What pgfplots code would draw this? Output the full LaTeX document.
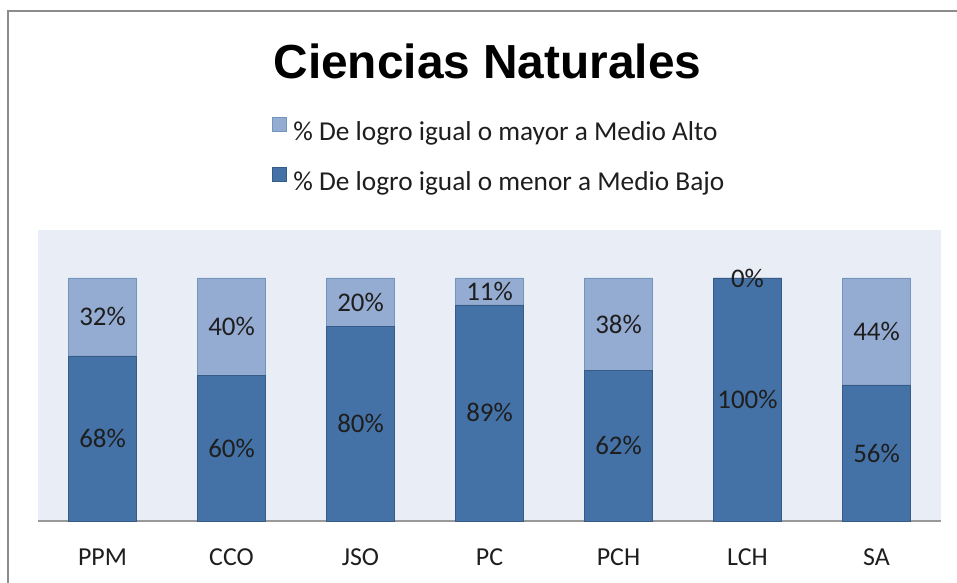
\documentclass[border=0pt]{standalone}
\usepackage{pgfplots}
\pgfplotsset{compat=1.18}
\usepackage{fontspec}
\setmainfont{Carlito}
\newfontfamily\titlefont{Liberation Sans}
\definecolor{bajo}{HTML}{4472A7}
\definecolor{alto}{HTML}{95ACD2}
\definecolor{plotbg}{HTML}{E9EDF5}
\definecolor{txt}{HTML}{1E1E1E}

\begin{document}
\begin{tikzpicture}
\path[use as bounding box] (-38bp,-62bp) rectangle (919bp,521bp);
\draw[black!45, line width=1.8bp] (-30bp,-80bp) -- (-30bp,510bp) -- (940bp,510bp);
\node[font=\titlefont\bfseries\fontsize{48}{56}\selectfont] at (449.5bp,460bp) {Ciencias Naturales};
\begin{axis}[
  scale only axis, width=903bp, height=291bp,
  ybar stacked, bar width=68bp,
  xmin=-0.5, xmax=6.5, ymin=0, ymax=119.75,
  axis background/.style={fill=plotbg},
  axis y line=none, axis x line*=bottom,
  x axis line style={black!40, line width=1.2bp, -},
  xtick={0,...,6}, xticklabels={PPM,CCO,JSO,PC,PCH,LCH,SA},
  major tick length=0pt,
  xticklabel style={font=\fontsize{26}{30}\selectfont, text=txt, yshift=-24bp},
  % labels sit centred in each stacked segment
  nodes near coords={\pgfmathprintnumber[fixed,precision=0]{\rawy}\%},
  nodes near coords style={font=\fontsize{27}{31}\selectfont, text=txt, anchor=center},
  visualization depends on=rawy \as \rawy,
  /pgf/number format/assume math mode=true,
  legend style={at={(0.259,1.256)}, anchor=west, draw=none, fill=none,
    font=\fontsize{27.4}{31}\selectfont, text=txt, row sep=23bp, inner sep=0pt,
    cells={anchor=west}},
  reverse legend,
  legend image code/.code={\draw[#1] (0bp,1bp) rectangle (14bp,15bp);},
]
\addplot[fill=bajo, draw=bajo!80!black] coordinates {(0,68) (1,60) (2,80) (3,89) (4,62) (5,100) (6,56)};
\addlegendentry{\hspace{5bp}\% De logro igual o menor a Medio Bajo}
\addplot[fill=alto, draw=bajo!75] coordinates {(0,32) (1,40) (2,20) (3,11) (4,38) (5,0.001) (6,44)};
\addlegendentry{\hspace{5bp}\% De logro igual o mayor a Medio Alto}
\end{axis}
\end{tikzpicture}
\end{document}
